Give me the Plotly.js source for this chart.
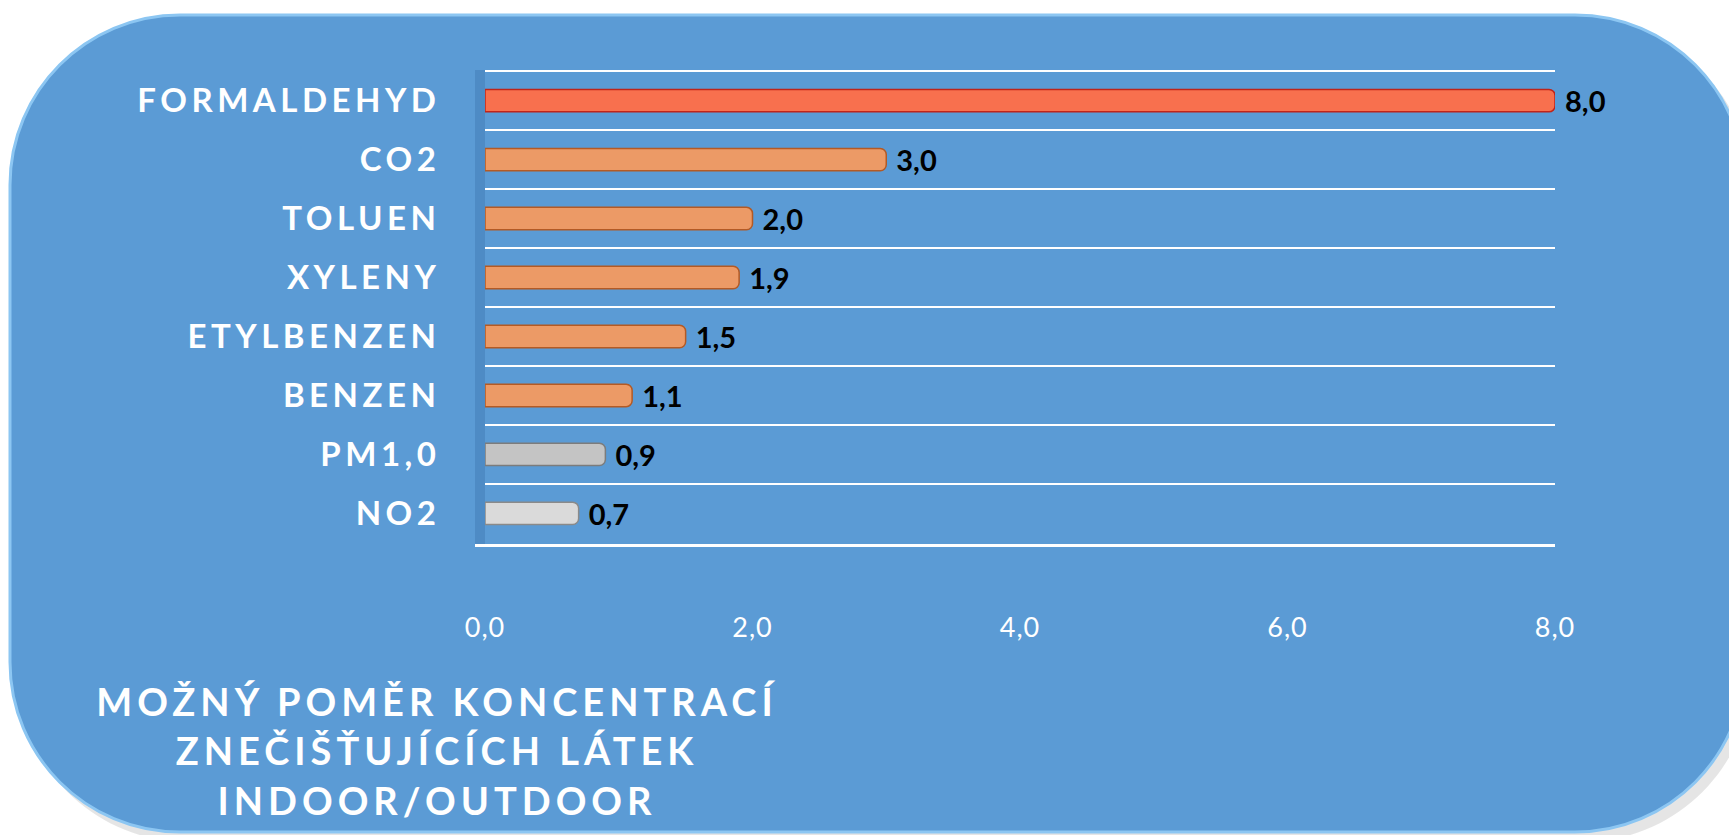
<!DOCTYPE html>
<html>
<head>
<meta charset="utf-8">
<script src="https://cdn.plot.ly/plotly-3.0.1.min.js"></script>
<style>
  html, body { margin: 0; padding: 0; background: #ffffff; }
  #chart { width: 1729px; height: 835px; }
  #chart .ytick text { letter-spacing: 4.5px; }
  #chart .gtitle { letter-spacing: 5px; }
  #chart .xtick text { letter-spacing: 1px; }
  #chart .bartext text { letter-spacing: 1px; }
</style>
</head>
<body>
<div id="chart"></div>
<script>
// ---- data ----
const categories = ["FORMALDEHYD", "CO2", "TOLUEN", "XYLENY", "ETYLBENZEN", "BENZEN", "PM1,0", "NO2"];
const ratios = [8.0, 3.0, 2.0, 1.9, 1.5, 1.1, 0.9, 0.7];
const axisTicks = [0, 2, 4, 6, 8];
const titleLines = ["MOŽNÝ POMĚR KONCENTRACÍ", "ZNEČIŠŤUJÍCÍCH LÁTEK", "INDOOR/OUTDOOR"];

// ---- styles ----
const barColors = ["#f8704e", "#ec9a66", "#ec9a66", "#ec9a66", "#ec9a66", "#ec9a66", "#c4c4c4", "#dadada"];
const barEdge = ["#c0241a", "#b35a25", "#b35a25", "#b35a25", "#b35a25", "#b35a25", "#7c7c7c", "#8a8a8a"];

const W = 1729, H = 835;
const M = { l: 485, r: 174, t: 70, b: 291 };
const pw = W - M.l - M.r, ph = H - M.t - M.b;
const px = X => (X - M.l) / pw;
const py = Y => (H - M.b - Y) / ph;

function roundRect(x0, y0, x1, y1, r) {
  const k = 0.5523 * r;
  const P = (X, Y) => px(X).toFixed(5) + "," + py(Y).toFixed(5);
  return "M" + P(x0 + r, y0) +
    " L" + P(x1 - r, y0) +
    " C" + P(x1 - r + k, y0) + " " + P(x1, y0 + r - k) + " " + P(x1, y0 + r) +
    " L" + P(x1, y1 - r) +
    " C" + P(x1, y1 - r + k) + " " + P(x1 - r + k, y1) + " " + P(x1 - r, y1) +
    " L" + P(x0 + r, y1) +
    " C" + P(x0 + r - k, y1) + " " + P(x0, y1 - r + k) + " " + P(x0, y1 - r) +
    " L" + P(x0, y0 + r) +
    " C" + P(x0, y0 + r - k) + " " + P(x0 + r - k, y0) + " " + P(x0 + r, y0) + " Z";
}

const trace = {
  type: "bar",
  orientation: "h",
  y: categories,
  x: ratios,
  width: 0.38,
  marker: { color: barColors, line: { color: barEdge, width: 1.5 }, cornerradius: 6 },
  texttemplate: "\u00a0%{x:.1f}",
  textposition: "outside",
  constraintext: "none",
  cliponaxis: false,
  textfont: { family: "Lato, 'Open Sans', sans-serif", size: 29, color: "#000000", weight: "bold" },
  hoverinfo: "skip"
};

const layout = {
  width: W, height: H,
  margin: { l: M.l, r: M.r, t: M.t, b: M.b, pad: 0 },
  paper_bgcolor: "#ffffff",
  plot_bgcolor: "rgba(0,0,0,0)",
  separators: ", ",
  showlegend: false,
  title: {
    text: titleLines.join("<br>"),
    x: 437 / W, xref: "container", xanchor: "center",
    y: 1 - 716 / H, yref: "container", yanchor: "middle",
    font: { family: "Lato, 'Open Sans', sans-serif", size: 38, color: "#ffffff", weight: "bold" }
  },
  xaxis: {
    range: [0, 8],
    tickmode: "array",
    tickvals: axisTicks,
    tickformat: ".1f",
    showgrid: false, zeroline: false,
    showline: true, linecolor: "#ffffff", linewidth: 2.5,
    ticks: "",
    ticklabelstandoff: 58,
    tickfont: { family: "Lato, 'Open Sans', sans-serif", size: 27, color: "#ffffff" },
    fixedrange: true
  },
  yaxis: {
    type: "category",
    range: [7.52, -0.52],
    tickson: "boundaries",
    showgrid: true, gridcolor: "#ffffff", gridwidth: 2.5,
    ticks: "",
    showline: true, linecolor: "rgba(40,90,150,0.25)", linewidth: 10,
    ticklabelstandoff: 28,
    tickfont: { family: "Lato, 'Open Sans', sans-serif", size: 33, color: "#ffffff", weight: "bold" },
    fixedrange: true
  },
  shapes: [
    { type: "path", xref: "paper", yref: "paper", layer: "below",
      path: roundRect(18, 22, 1752, 842, 170),
      fillcolor: "rgba(0,0,0,0.10)", line: { width: 0 } },
    { type: "path", xref: "paper", yref: "paper", layer: "below",
      path: roundRect(10, 15, 1745, 832, 170),
      fillcolor: "#5b9bd5", line: { color: "#8cc6f2", width: 3 } }
  ]
};

Plotly.newPlot("chart", [trace], layout, { displayModeBar: false, staticPlot: true });
</script>
</body>
</html>
